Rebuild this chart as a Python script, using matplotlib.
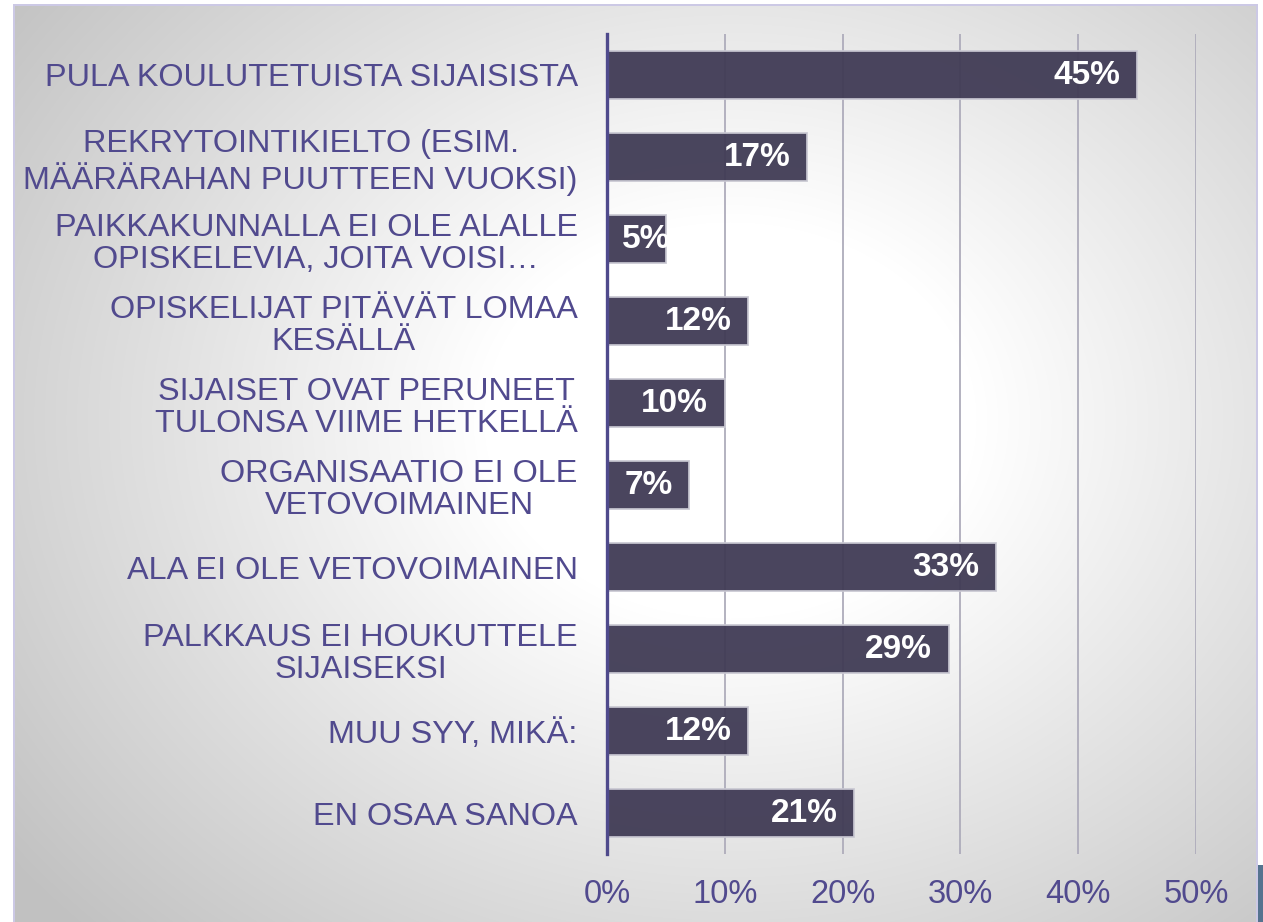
import numpy as np
import matplotlib
matplotlib.use('Agg')
import matplotlib.pyplot as plt

# Data
categories = [
    'PULA KOULUTETUISTA SIJAISISTA',
    'REKRYTOINTIKIELTO (ESIM.\nMÄÄRÄRAHAN PUUTTEEN VUOKSI)',
    'PAIKKAKUNNALLA EI OLE ALALLE\nOPISKELEVIA, JOITA VOISI…',
    'OPISKELIJAT PITÄVÄT LOMAA\nKESÄLLÄ',
    'SIJAISET OVAT PERUNEET\nTULONSA VIIME HETKELLÄ',
    'ORGANISAATIO EI OLE\nVETOVOIMAINEN',
    'ALA EI OLE VETOVOIMAINEN',
    'PALKKAUS EI HOUKUTTELE\nSIJAISEKSI',
    'MUU SYY, MIKÄ:',
    'EN OSAA SANOA',
]
values = [45, 17, 5, 12, 10, 7, 33, 29, 12, 21]
xticks = [0, 10, 20, 30, 40, 50]

plt.rcParams['font.family'] = ['Liberation Sans', 'DejaVu Sans']

W, H = 1263, 922
fig = plt.figure(figsize=(W / 100, H / 100), dpi=100)
fig.patch.set_facecolor('white')

# background: radial grey gradient inside a thin lilac frame
yy, xx = np.mgrid[0:H, 0:W]
r = np.sqrt(((xx - 730) / 820.0) ** 2 + ((yy - 420) / 660.0) ** 2)
t = np.clip((r - 0.3) / 0.8, 0, 1)
v = 1 - 0.24 * t
img = np.ones((H, W, 3))
inside = (xx >= 14) & (xx <= 1256) & (yy >= 5)
for c in range(3):
    img[..., c] = np.where(inside, v, 1.0)
frame = np.array([0.80, 0.79, 0.90])
img[4:6, 13:1258] = frame
img[4:, 13:15] = frame
img[4:, 1256:1258] = frame
img[865:, 1258:] = np.array([0x55, 0x73, 0x8f]) / 255
fig.figimage(img, xo=0, yo=0, origin='upper', zorder=-10)

ax = fig.add_axes([607 / W, 1 - 854 / H, 589 / W, 820 / H])
ax.set_facecolor('none')

label_color = '#514a8e'
y = np.arange(len(categories))
bars = ax.barh(y, values, height=0.585, color='#403b55', alpha=0.95,
               edgecolor='#c9c8d2', linewidth=1.3, zorder=3)

for b, val in zip(bars, values):
    yc = b.get_y() + b.get_height() / 2
    if val < 6:
        # too short: start the label from the bar's base
        ax.annotate(f'{val}%', (0, yc), xytext=(11, 0), textcoords='offset points',
                    ha='left', va='center', color='white', fontsize=24,
                    fontweight='bold', zorder=4)
    else:
        ax.annotate(f'{val}%', (b.get_width(), yc), xytext=(-12, 0),
                    textcoords='offset points', ha='right', va='center',
                    color='white', fontsize=24, fontweight='bold', zorder=4)

ax.set_xlim(0, 50)
ax.set_ylim(len(categories) - 0.5, -0.5)
ax.set_xticks(xticks)
ax.set_xticklabels([f'{t}%' for t in xticks])
ax.set_yticks(y)
ax.set_yticklabels(categories, multialignment='center', linespacing=1.12)
ax.tick_params(axis='y', length=0, pad=21, labelsize=23.3, labelcolor=label_color)
ax.tick_params(axis='x', length=0, pad=18, labelsize=23.5, labelcolor=label_color)

ax.grid(axis='x', color='#aeacbb', linewidth=1.3, zorder=0)
ax.set_axisbelow(True)
for s in ['top', 'right', 'bottom']:
    ax.spines[s].set_visible(False)
ax.spines['left'].set_color('#4f4a8c')
ax.spines['left'].set_linewidth(2.4)
ax.spines['left'].set_zorder(5)

fig.savefig('out.png', dpi=100)
